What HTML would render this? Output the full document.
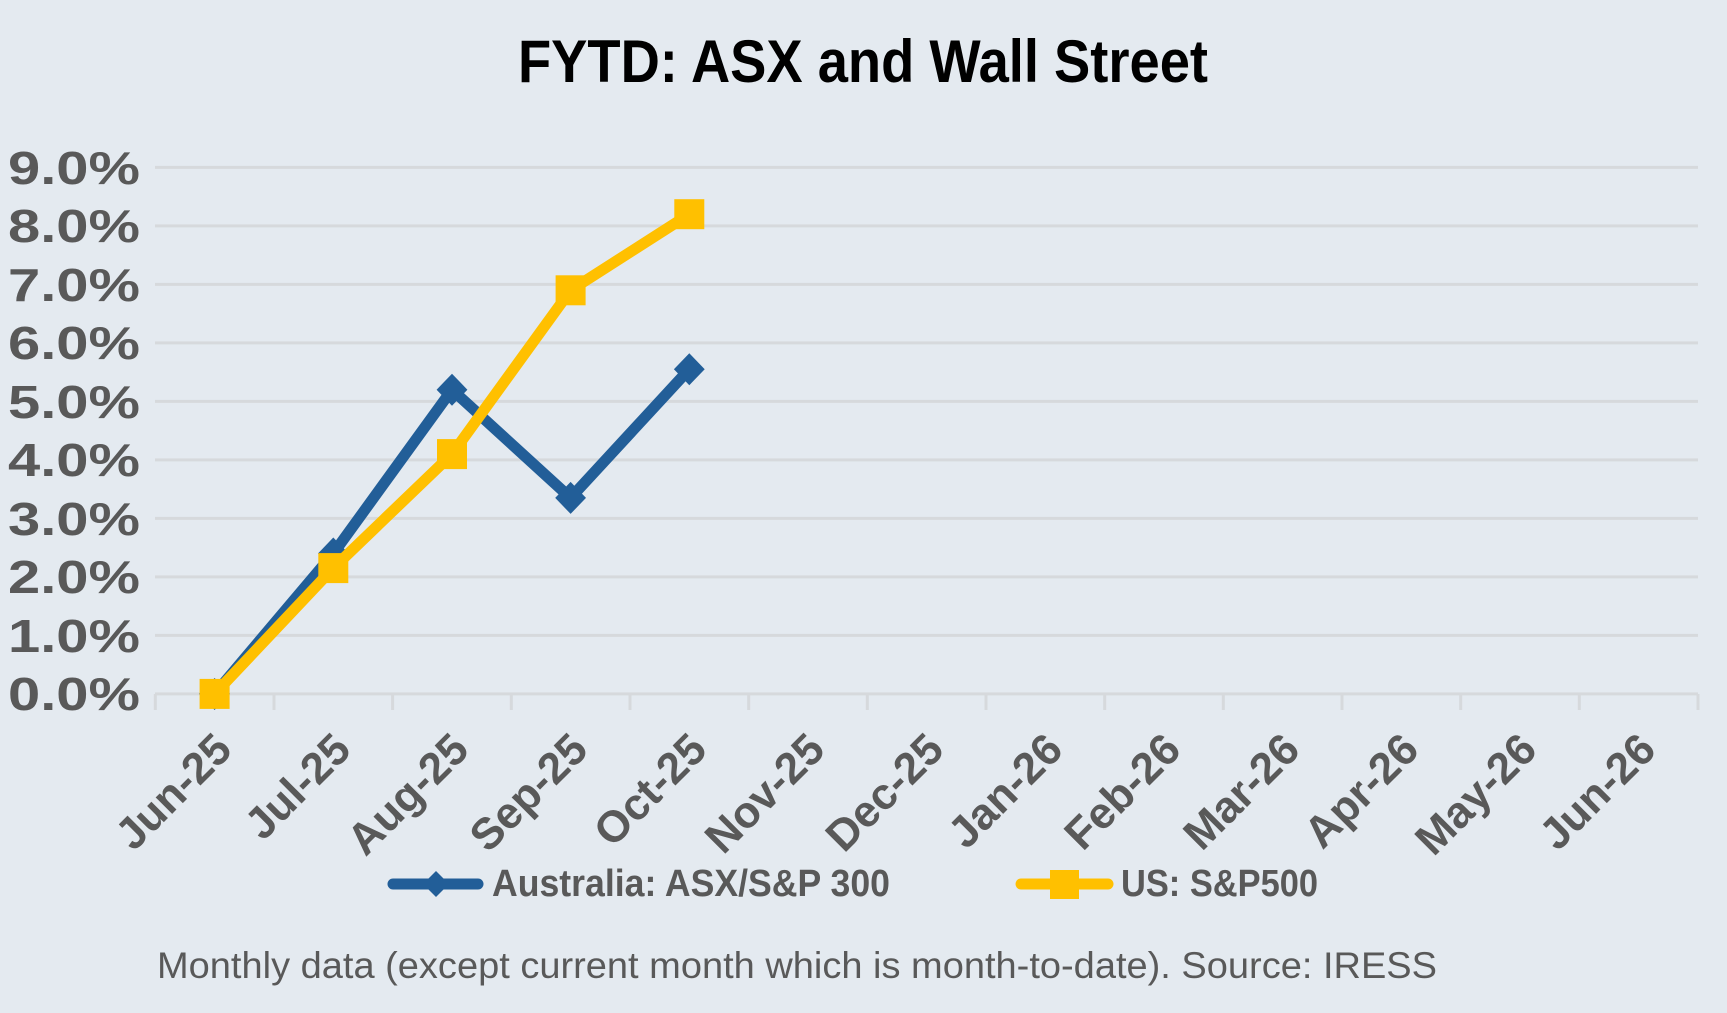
<!DOCTYPE html>
<html><head><meta charset="utf-8"><style>
html,body{margin:0;padding:0;background:#e4eaf0;}
svg{display:block;}
text{font-family:"Liberation Sans",sans-serif;}
</style></head><body>
<svg width="1727" height="1013" viewBox="0 0 1727 1013" xmlns="http://www.w3.org/2000/svg">
<rect width="1727" height="1013" fill="#e4eaf0"/>
<text x="863" y="82" text-anchor="middle" font-size="60" font-weight="bold" fill="#000" textLength="690" lengthAdjust="spacingAndGlyphs">FYTD: ASX and Wall Street</text>
<g stroke="#d6d9dc" stroke-width="3">
<line x1="155" y1="167.4" x2="1698" y2="167.4"/>
<line x1="155" y1="225.9" x2="1698" y2="225.9"/>
<line x1="155" y1="284.4" x2="1698" y2="284.4"/>
<line x1="155" y1="342.9" x2="1698" y2="342.9"/>
<line x1="155" y1="401.4" x2="1698" y2="401.4"/>
<line x1="155" y1="459.9" x2="1698" y2="459.9"/>
<line x1="155" y1="518.4" x2="1698" y2="518.4"/>
<line x1="155" y1="576.9" x2="1698" y2="576.9"/>
<line x1="155" y1="635.4" x2="1698" y2="635.4"/>
<line x1="155" y1="693.9" x2="1698" y2="693.9"/>
<g>
<line x1="155.3" y1="694" x2="155.3" y2="710"/><line x1="274" y1="694" x2="274" y2="710"/><line x1="392.6" y1="694" x2="392.6" y2="710"/><line x1="511.3" y1="694" x2="511.3" y2="710"/><line x1="630" y1="694" x2="630" y2="710"/><line x1="748.7" y1="694" x2="748.7" y2="710"/><line x1="867.3" y1="694" x2="867.3" y2="710"/><line x1="986" y1="694" x2="986" y2="710"/><line x1="1104.7" y1="694" x2="1104.7" y2="710"/><line x1="1223.3" y1="694" x2="1223.3" y2="710"/><line x1="1342" y1="694" x2="1342" y2="710"/><line x1="1460.7" y1="694" x2="1460.7" y2="710"/><line x1="1579.3" y1="694" x2="1579.3" y2="710"/><line x1="1698" y1="694" x2="1698" y2="710"/>
</g></g>
<g font-size="46" font-weight="bold" fill="#595959" text-anchor="end">
<text x="140" y="184" textLength="132" lengthAdjust="spacingAndGlyphs">9.0%</text>
<text x="140" y="242" textLength="132" lengthAdjust="spacingAndGlyphs">8.0%</text>
<text x="140" y="301" textLength="132" lengthAdjust="spacingAndGlyphs">7.0%</text>
<text x="140" y="359" textLength="132" lengthAdjust="spacingAndGlyphs">6.0%</text>
<text x="140" y="418" textLength="132" lengthAdjust="spacingAndGlyphs">5.0%</text>
<text x="140" y="476" textLength="132" lengthAdjust="spacingAndGlyphs">4.0%</text>
<text x="140" y="535" textLength="132" lengthAdjust="spacingAndGlyphs">3.0%</text>
<text x="140" y="593" textLength="132" lengthAdjust="spacingAndGlyphs">2.0%</text>
<text x="140" y="652" textLength="132" lengthAdjust="spacingAndGlyphs">1.0%</text>
<text x="140" y="710" textLength="132" lengthAdjust="spacingAndGlyphs">0.0%</text>
</g>
<g font-size="44" font-weight="bold" fill="#595959" text-anchor="end">
<text transform="translate(234,752) rotate(-45)">Jun-25</text>
<text transform="translate(353,752) rotate(-45)">Jul-25</text>
<text transform="translate(471,752) rotate(-45)">Aug-25</text>
<text transform="translate(590,752) rotate(-45)">Sep-25</text>
<text transform="translate(709,752) rotate(-45)">Oct-25</text>
<text transform="translate(827,752) rotate(-45)">Nov-25</text>
<text transform="translate(946,752) rotate(-45)">Dec-25</text>
<text transform="translate(1065,752) rotate(-45)">Jan-26</text>
<text transform="translate(1183,752) rotate(-45)">Feb-26</text>
<text transform="translate(1302,752) rotate(-45)">Mar-26</text>
<text transform="translate(1421,752) rotate(-45)">Apr-26</text>
<text transform="translate(1539,752) rotate(-45)">May-26</text>
<text transform="translate(1658,752) rotate(-45)">Jun-26</text>
</g>
<polyline points="214.6,693.9 333.3,553.5 452,389.7 570.6,497.9 689.3,369.2" fill="none" stroke="#225e98" stroke-width="11" stroke-linejoin="round" stroke-linecap="round"/>
<g fill="#225e98">
<polygon points="214.6,678 230,693.9 214.6,710 199,693.9"/>
<polygon points="333.3,537.5 348.7,553.5 333.3,569.5 318,553.5"/>
<polygon points="452,373.7 467.4,389.7 452,405.7 436.6,389.7"/>
<polygon points="570.6,481.9 586,497.9 570.6,513.9 555.2,497.9"/>
<polygon points="689.3,353.2 704.7,369.2 689.3,385.2 673.9,369.2"/>
</g>
<polyline points="214.6,693.9 333.3,568.1 452,454.1 570.6,290.3 689.3,214.2" fill="none" stroke="#ffc000" stroke-width="11" stroke-linejoin="round" stroke-linecap="round"/>
<g fill="#ffc000">
<rect x="199.6" y="678.9" width="30" height="30"/>
<rect x="318.3" y="553.1" width="30" height="30"/>
<rect x="437" y="439.1" width="30" height="30"/>
<rect x="555.6" y="275.3" width="30" height="30"/>
<rect x="674.3" y="199.2" width="30" height="30"/>
</g>
<line x1="393" y1="884" x2="478" y2="884" stroke="#225e98" stroke-width="11" stroke-linecap="round"/>
<polygon points="436,871 449,884 436,897 423,884" fill="#225e98"/>
<text x="492" y="896" font-size="38" font-weight="bold" fill="#595959" textLength="398" lengthAdjust="spacingAndGlyphs">Australia: ASX/S&amp;P 300</text>
<line x1="1021" y1="884" x2="1108" y2="884" stroke="#ffc000" stroke-width="11" stroke-linecap="round"/>
<rect x="1050" y="870" width="29" height="29" fill="#ffc000"/>
<text x="1121" y="896" font-size="38" font-weight="bold" fill="#595959" textLength="197" lengthAdjust="spacingAndGlyphs">US: S&amp;P500</text>
<text x="157" y="978" font-size="37" fill="#595959" textLength="1280" lengthAdjust="spacingAndGlyphs">Monthly data (except current month which is month-to-date).  Source: IRESS</text>
</svg>
</body></html>
